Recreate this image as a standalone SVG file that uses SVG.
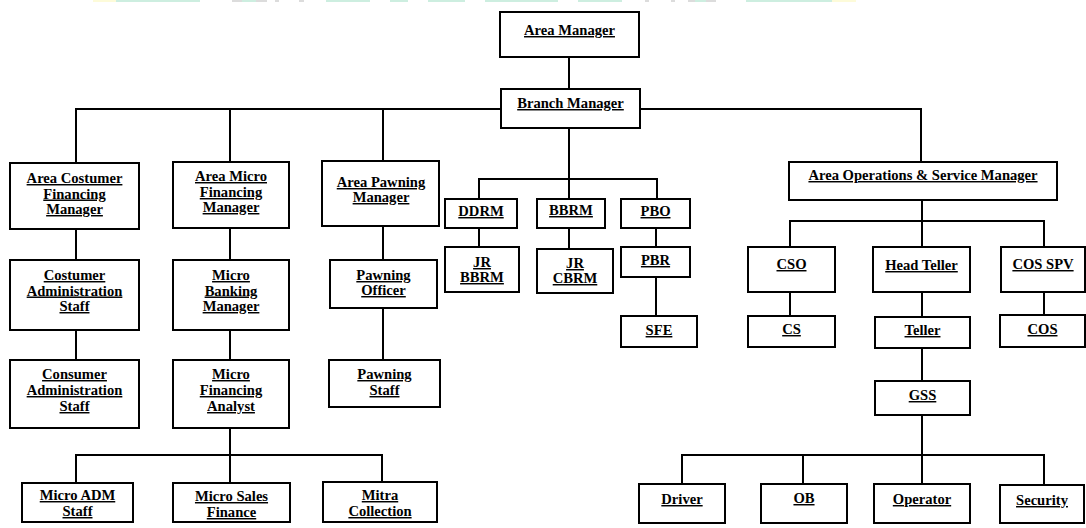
<svg xmlns="http://www.w3.org/2000/svg" width="1086" height="528" viewBox="0 0 1086 528">
<style>
.b{fill:#fff;stroke:#000;stroke-width:2}
.t{font-family:"Liberation Serif","Times New Roman",serif;font-weight:bold;font-size:14.6px;fill:#000;text-anchor:middle;text-decoration:underline}
.c{fill:none;stroke:#000;stroke-width:2}
.g{fill:#cdeee0}.y{fill:#fdfbd9}.s{fill:#dcdcdc}
</style>
<rect width="1086" height="528" fill="#fff"/>
<g id="top-strip">
<rect class="y" x="93" y="0" width="23" height="2"/><rect class="g" x="116" y="0" width="84" height="2"/>
<rect class="s" x="232" y="0" width="10" height="2"/><rect class="g" x="242" y="0" width="14" height="2"/><rect class="s" x="256" y="0" width="11" height="2"/>
<rect class="s" x="275" y="0" width="4" height="2"/><rect class="s" x="299" y="0" width="5" height="2"/>
<rect class="g" x="326" y="0" width="44" height="2"/><rect class="g" x="390" y="0" width="18" height="2"/>
<rect class="g" x="428" y="0" width="37" height="2"/><rect class="g" x="485" y="0" width="73" height="2"/>
<rect class="g" x="578" y="0" width="44" height="2"/><rect class="s" x="645" y="0" width="4" height="2"/><rect class="s" x="671" y="0" width="4" height="2"/>
<rect class="s" x="688" y="0" width="28" height="2"/><rect class="g" x="695" y="0" width="11" height="2"/>
<rect class="g" x="746" y="0" width="86" height="2"/><rect class="y" x="832" y="0" width="24" height="2"/>
</g>
<g id="connectors">
<path class="c" d="M569 57V89"/>
<path class="c" d="M501 109H76V163M230 109V162M383 109V161"/>
<path class="c" d="M640 109H921V162"/>
<path class="c" d="M569 128V179M479 199V179H657V199M569 179V199"/>
<path class="c" d="M479 228V247M569 228V249M656 228V247M656 277V316"/>
<path class="c" d="M76 229V260M76 330V360"/>
<path class="c" d="M230 228V260M230 330V360M230 428V483M76 483V455H382V482"/>
<path class="c" d="M383 226V260M383 308V360"/>
<path class="c" d="M922 200V247M790 247V221H1044V247"/>
<path class="c" d="M790 292V316M922 292V317M1044 292V315"/>
<path class="c" d="M922 348V381M922 415V484M682 484V455H1044V485M803 455V484"/>
</g>
<g id="area-manager"><rect class="b" x="500" y="12" width="139" height="45"/><text class="t" x="569.5" y="35">Area Manager</text></g>
<g id="branch-manager"><rect class="b" x="501" y="89" width="139" height="39"/><text class="t" x="570.5" y="108">Branch Manager</text></g>
<g id="area-costumer-financing-manager"><rect class="b" x="10" y="163" width="129" height="66"/><text class="t"><tspan x="74.5" y="183">Area Costumer</tspan><tspan x="74.5" y="198.5">Financing</tspan><tspan x="74.5" y="214">Manager</tspan></text></g>
<g id="area-micro-financing-manager"><rect class="b" x="173" y="162" width="116" height="66"/><text class="t"><tspan x="231" y="181">Area Micro</tspan><tspan x="231" y="197">Financing</tspan><tspan x="231" y="212">Manager</tspan></text></g>
<g id="area-pawning-manager"><rect class="b" x="322" y="161" width="117" height="65"/><text class="t"><tspan x="381" y="187">Area Pawning</tspan><tspan x="381" y="202">Manager</tspan></text></g>
<g id="ddrm"><rect class="b" x="445" y="199" width="72" height="29"/><text class="t" x="481" y="216">DDRM</text></g>
<g id="bbrm"><rect class="b" x="537" y="199" width="68" height="29"/><text class="t" x="571" y="215">BBRM</text></g>
<g id="pbo"><rect class="b" x="621" y="199" width="69" height="29"/><text class="t" x="655.5" y="216">PBO</text></g>
<g id="jr-bbrm"><rect class="b" x="445" y="247" width="74" height="45"/><text class="t"><tspan x="482" y="267">JR</tspan><tspan x="482" y="282">BBRM</tspan></text></g>
<g id="jr-cbrm"><rect class="b" x="537" y="249" width="76" height="44"/><text class="t"><tspan x="575" y="268">JR</tspan><tspan x="575" y="283">CBRM</tspan></text></g>
<g id="pbr"><rect class="b" x="621" y="247" width="69" height="30"/><text class="t" x="655.5" y="265">PBR</text></g>
<g id="sfe"><rect class="b" x="621" y="316" width="76" height="31"/><text class="t" x="659" y="335">SFE</text></g>
<g id="area-operations-service-manager"><rect class="b" x="789" y="162" width="268" height="38"/><text class="t" x="923" y="180">Area Operations &amp; Service Manager</text></g>
<g id="cso"><rect class="b" x="748" y="247" width="87" height="45"/><text class="t" x="791.5" y="269">CSO</text></g>
<g id="head-teller"><rect class="b" x="873" y="247" width="97" height="45"/><text class="t" x="921.5" y="270">Head  Teller</text></g>
<g id="cos-spv"><rect class="b" x="1001" y="247" width="84" height="45"/><text class="t" x="1043" y="269">COS SPV</text></g>
<g id="cs"><rect class="b" x="748" y="316" width="87" height="31"/><text class="t" x="791.5" y="334">CS</text></g>
<g id="teller"><rect class="b" x="875" y="317" width="95" height="31"/><text class="t" x="922.5" y="335">Teller</text></g>
<g id="cos"><rect class="b" x="1000" y="315" width="85" height="32"/><text class="t" x="1042.5" y="334">COS</text></g>
<g id="gss"><rect class="b" x="875" y="381" width="95" height="34"/><text class="t" x="922.5" y="400">GSS</text></g>
<g id="driver"><rect class="b" x="639" y="484" width="86" height="39"/><text class="t" x="682" y="504">Driver</text></g>
<g id="ob"><rect class="b" x="761" y="484" width="86" height="39"/><text class="t" x="804" y="503">OB</text></g>
<g id="operator"><rect class="b" x="874" y="484" width="96" height="39"/><text class="t" x="922" y="504">Operator</text></g>
<g id="security"><rect class="b" x="1000" y="485" width="84" height="38"/><text class="t" x="1042" y="505">Security</text></g>
<g id="costumer-administration-staff"><rect class="b" x="10" y="260" width="129" height="70"/><text class="t"><tspan x="74.5" y="280">Costumer</tspan><tspan x="74.5" y="295.5">Administration</tspan><tspan x="74.5" y="311">Staff</tspan></text></g>
<g id="micro-banking-manager"><rect class="b" x="173" y="260" width="116" height="70"/><text class="t"><tspan x="231" y="280">Micro</tspan><tspan x="231" y="295.5">Banking</tspan><tspan x="231" y="311">Manager</tspan></text></g>
<g id="pawning-officer"><rect class="b" x="330" y="260" width="107" height="48"/><text class="t"><tspan x="383.5" y="280">Pawning</tspan><tspan x="383.5" y="295">Officer</tspan></text></g>
<g id="consumer-administration-staff"><rect class="b" x="10" y="360" width="129" height="68"/><text class="t"><tspan x="74.5" y="379">Consumer</tspan><tspan x="74.5" y="395">Administration</tspan><tspan x="74.5" y="411">Staff</tspan></text></g>
<g id="micro-financing-analyst"><rect class="b" x="173" y="360" width="116" height="68"/><text class="t"><tspan x="231" y="379">Micro</tspan><tspan x="231" y="395">Financing</tspan><tspan x="231" y="411">Analyst</tspan></text></g>
<g id="pawning-staff"><rect class="b" x="329" y="360" width="111" height="47"/><text class="t"><tspan x="384.5" y="379">Pawning</tspan><tspan x="384.5" y="395">Staff</tspan></text></g>
<g id="micro-adm-staff"><rect class="b" x="22" y="483" width="111" height="39"/><text class="t"><tspan x="77.5" y="500">Micro ADM</tspan><tspan x="77.5" y="516">Staff</tspan></text></g>
<g id="micro-sales-finance"><rect class="b" x="173" y="483" width="117" height="39"/><text class="t"><tspan x="231.5" y="501">Micro Sales</tspan><tspan x="231.5" y="517">Finance</tspan></text></g>
<g id="mitra-collection"><rect class="b" x="323" y="482" width="114" height="40"/><text class="t"><tspan x="380" y="500">Mitra</tspan><tspan x="380" y="516">Collection</tspan></text></g>
</svg>
